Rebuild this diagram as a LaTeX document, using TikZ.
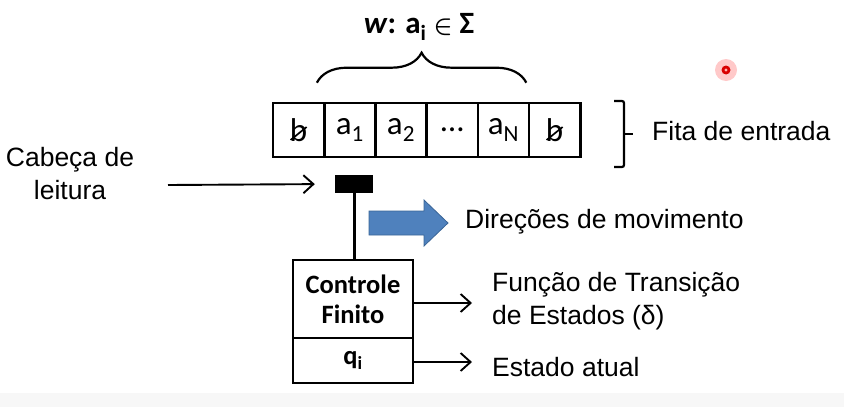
\documentclass[tikz,border=0pt]{standalone}
\usepackage{fontspec}
\setmainfont{Liberation Sans}
\newfontfamily\carlitofont{Carlito}
\usetikzlibrary{arrows.meta,decorations.pathreplacing,positioning}
\definecolor{arrowblue}{HTML}{4F81BD}
\definecolor{arrowedge}{HTML}{3A6597}
\tikzset{
  cell/.style={draw, line width=2.6pt, minimum width=51.2pt, minimum height=54pt, inner sep=0pt,
    font=\carlitofont\fontsize{33}{34}\selectfont},
  boxpart/.style={draw, line width=2.6pt, minimum width=120pt, inner sep=0pt, align=center,
    font=\carlitofont\bfseries\fontsize{26.5}{30}\selectfont},
  label/.style={inner sep=0pt, anchor=west, align=left, font=\fontsize{26.5}{33}\selectfont},
  conn/.style={line width=1.9pt, -{Straight Barb[length=10pt,width=18pt,line width=1.9pt]}},
  blankslash/.style={line width=1.7pt},
}
\begin{document}
\begin{tikzpicture}[x=1pt,y=-1pt]
\useasboundingbox (0,0) rectangle (844,407);
\fill[black!3] (0,393) rectangle (844,407);
% red cursor dot
\fill[red!30,opacity=0.7] (726,70) circle (11);
\fill[red!85!black] (726,70) circle (4.5);
\fill[white!70!red] (726,70) circle (1.6);
% tape
\node[cell] (c0) at (298.6,130) {b};
\node[cell] (c1) at (349.8,130) {a\textsubscript{1}};
\node[cell] (c2) at (401.0,130) {a\textsubscript{2}};
\node[cell] (c3) at (452.2,130) {…};
\node[cell] (c4) at (503.4,130) {a\textsubscript{N}};
\node[cell] (c5) at (554.6,130) {b};
\draw[blankslash] ([shift={(-8,10)}]c0.center) -- ([shift={(8,-3)}]c0.center);
\draw[blankslash] ([shift={(-8,10)}]c5.center) -- ([shift={(8,-3)}]c5.center);
% brace over w
\draw[line width=2.2pt, decorate, decoration={brace, amplitude=30pt, raise=19pt}]
  ([xshift=-6pt]c1.north west) -- ([xshift=-4pt]c4.north east);
\node[inner sep=0pt, font=\carlitofont\bfseries\fontsize{31}{32}\selectfont] (w) at (419,27)
  {\textit{w}: a\textsubscript{i} {\boldmath$\in$} Σ};
% right bracket
\coordinate (bt) at (614,101);
\coordinate (bb) at (614,167);
\draw[line width=2.2pt, rounded corners=2pt] (bt) -- ++(10,0) -- ++(0,66) -- (bb);
\coordinate (btick) at (624,134);
\draw[line width=2.2pt] (btick) -- ++(9,0);
\node[label] (fita) at (652,131) {Fita de entrada};
% head
\node[fill=black, minimum width=38pt, minimum height=18pt, inner sep=0pt] (head) at (354,184) {};
% controller box
\node[boxpart, minimum height=78pt] (ctrl) at (353,299) {Controle\\Finito};
\node[boxpart, minimum height=45pt] (qi) at (353,360.5) {q\textsubscript{i}};
\draw[line width=3pt] (head.south) -- (ctrl.north -| head.south);
% read head label
\node[label, anchor=center, align=center] (cab) at (70,174) {Cabeça de\\leitura};
\coordinate (cabs) at (168,185);
\draw[conn, shorten >=20pt] (cabs) -- (head.west);
% blue movement arrow
\coordinate (ba) at (369,211);
\draw[fill=arrowblue, draw=arrowedge, line width=0.8pt]
  (ba) -- ++(55,0) -- ++(0,-11) -- ++(24,23) -- ++(-24,23) -- ++(0,-11) -- ++(-55,0) -- cycle;
\node[label] (dir) at (465,222) {Direções de movimento};
% outputs
\node[label] (func) at (492,301) {Função de Transição\\de Estados (δ)};
\node[label] (est) at (492,367) {Estado atual};
\coordinate (t1) at (472,303);
\coordinate (t2) at (472,362);
\draw[conn] (ctrl.east |- t1) -- (t1);
\draw[conn] (qi.east |- t2) -- (t2);
\end{tikzpicture}
\end{document}
